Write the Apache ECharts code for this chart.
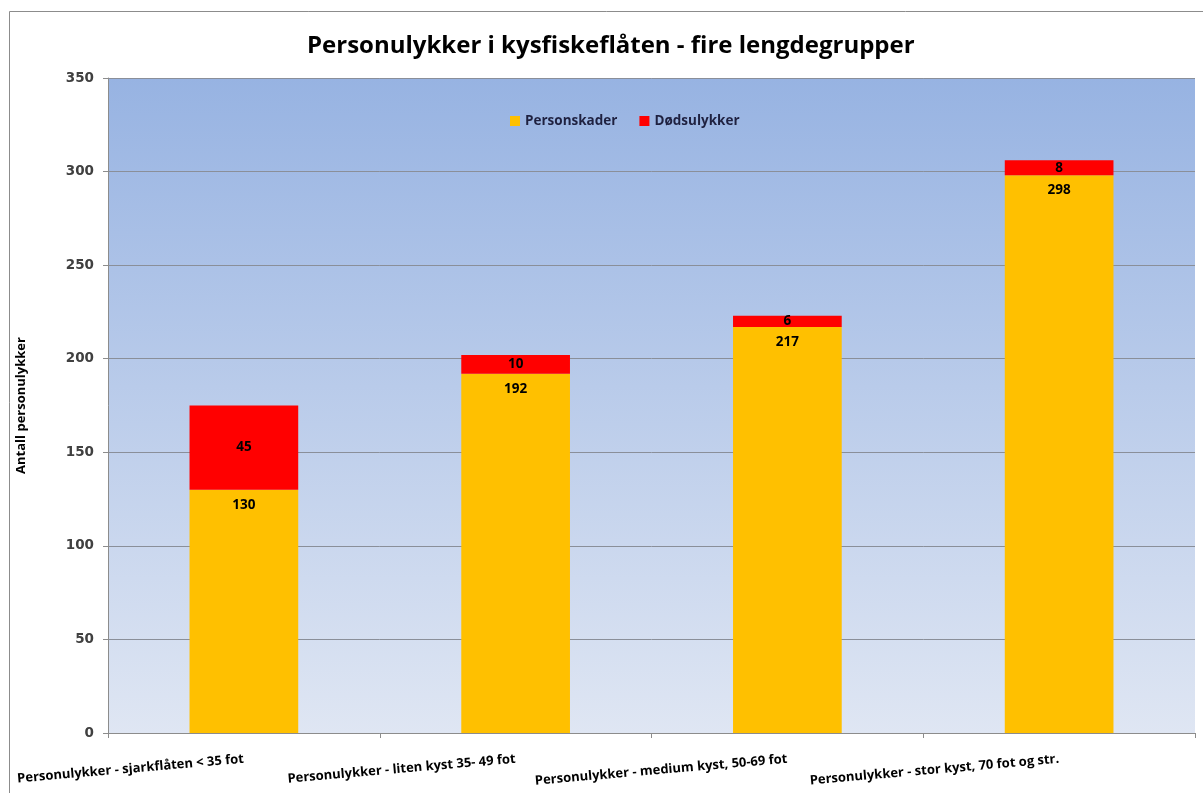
<!DOCTYPE html>
<html>
<head>
<meta charset="utf-8">
<script src="https://cdn.jsdelivr.net/npm/echarts@6/dist/echarts.min.js"></script>
<style>
  html, body { margin: 0; padding: 0; background: #fff; }
  #chart { width: 1203px; height: 793px; }
</style>
</head>
<body>
<div id="chart"></div>
<script>
// data
var categories = [
    'Personulykker - sjarkflåten < 35 fot',
    'Personulykker - liten kyst 35- 49 fot',
    'Personulykker - medium kyst, 50-69 fot',
    'Personulykker - stor kyst, 70 fot og str.'
];
var personskader = [130, 192, 217, 298];
var dodsulykker = [45, 10, 6, 8];
var yTicks = [0, 50, 100, 150, 200, 250, 300, 350];

var font = "'Open Sans', 'DejaVu Sans', sans-serif";

var chart = echarts.init(document.getElementById('chart'));
var option = {
    backgroundColor: '#fff',
    animation: false,
    title: {
        text: 'Personulykker i kysfiskeflåten - fire lengdegrupper',
        left: 302,
        top: 29,
        textStyle: { fontFamily: font, fontSize: 24, fontWeight: 'bold', color: '#000' }
    },
    graphic: [{
        type: 'rect',
        shape: { x: 9.5, y: 11.5, width: 1220, height: 800 },
        style: { fill: null, stroke: '#8c8c8c', lineWidth: 1 },
        silent: true
    }],
    legend: {
        top: 109,
        left: 505,
        itemWidth: 10,
        itemHeight: 10,
        itemGap: 22,
        icon: 'rect',
        textStyle: { fontFamily: font, fontSize: 13.5, fontWeight: 'bold', color: '#1f2140' },
        data: ['Personskader', 'Dødsulykker']
    },
    grid: {
        left: 108, right: 8, top: 78, bottom: 60,
        show: true,
        borderWidth: 0,
        backgroundColor: new echarts.graphic.LinearGradient(0, 0, 0, 1, [
            { offset: 0, color: '#97b3e2' },
            { offset: 1, color: '#dfe6f3' }
        ])
    },
    xAxis: {
        type: 'category',
        data: categories,
        axisLine: { lineStyle: { color: '#8c8c8c' } },
        axisTick: { show: true, lineStyle: { color: '#8c8c8c' }, length: 5 },
        axisLabel: {
            interval: 0,
            rotate: 5,
            margin: 26,
            fontFamily: font, fontSize: 13, fontWeight: 'bold', color: '#000'
        }
    },
    yAxis: {
        type: 'value',
        min: yTicks[0],
        max: yTicks[yTicks.length - 1],
        interval: 50,
        name: 'Antall personulykker',
        nameLocation: 'middle',
        nameGap: 80,
        nameRotate: 90,
        nameTextStyle: { fontFamily: font, fontSize: 13, fontWeight: 'bold', color: '#000' },
        axisLine: { show: true, lineStyle: { color: '#8c8c8c' } },
        axisTick: { show: true, length: 5, lineStyle: { color: '#8c8c8c' } },
        axisLabel: { margin: 14, fontFamily: "'DejaVu Sans', sans-serif", fontSize: 13.5, fontWeight: 'bold', color: '#404040' },
        splitLine: { lineStyle: { color: '#8a8f99', width: 1 } }
    },
    series: [{
        name: 'Personskader',
        type: 'bar',
        stack: 'total',
        barWidth: '40%',
        itemStyle: { color: '#ffc000' },
        label: {
            show: true, position: 'insideTop', distance: 8,
            fontFamily: font, fontSize: 13.5, fontWeight: 'bold', color: '#000'
        },
        data: personskader
    }, {
        name: 'Dødsulykker',
        type: 'bar',
        stack: 'total',
        barWidth: '40%',
        itemStyle: { color: '#ff0000' },
        label: {
            show: true, position: 'inside',
            fontFamily: font, fontSize: 13.5, fontWeight: 'bold', color: '#000'
        },
        data: dodsulykker
    }]
};
chart.setOption(option);
</script>
</body>
</html>
